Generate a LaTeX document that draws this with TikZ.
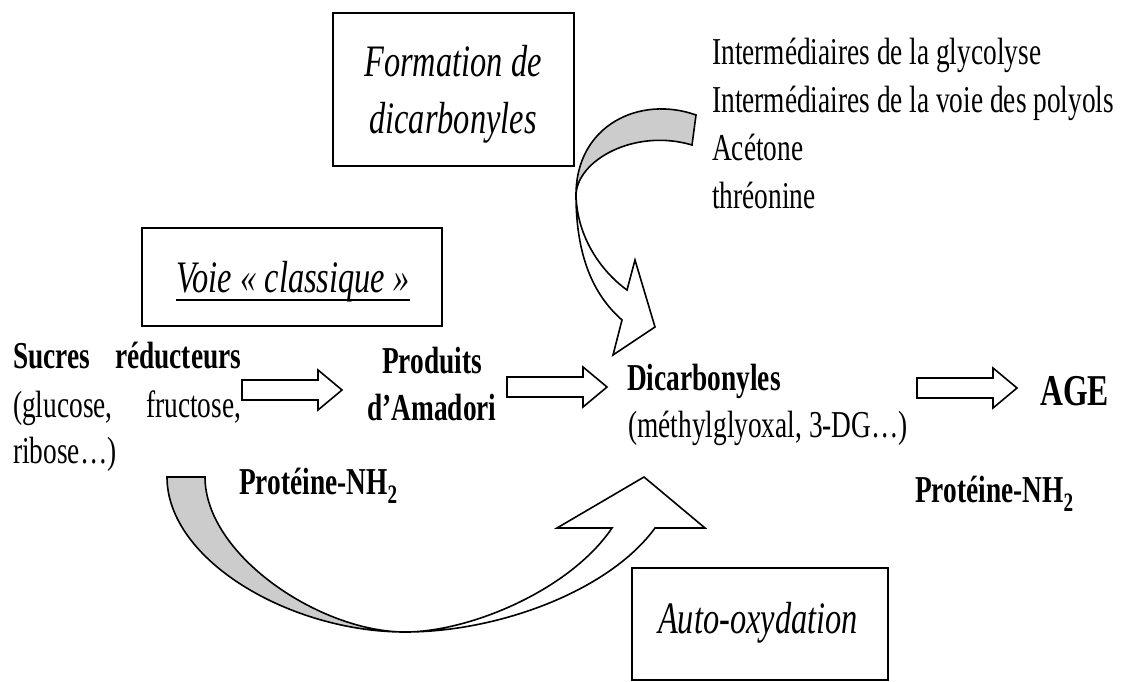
\documentclass[tikz,border=0pt]{standalone}
\usepackage{fontspec}
\setmainfont{Liberation Serif}[FakeStretch=0.72]
\begin{document}
\begin{tikzpicture}[x=1pt,y=-1pt,
  box/.style={draw, line width=1.8pt, inner sep=0pt},
  boxtitle/.style={font=\fontsize{45}{56}\selectfont\itshape, anchor=base, inner sep=0pt},
  bigbold/.style={font=\fontsize{38}{47}\selectfont\bfseries, inner sep=0pt},
  plain/.style={font=\fontsize{38}{47}\selectfont, inner sep=0pt},
  outline/.style={draw=black, line width=1.6pt, line join=miter},
  ribbonback/.style={outline, fill=gray!40},
  ribbonfront/.style={outline, fill=white},
  pics/fatarrow/.style={code={
    \draw[outline, fill=white] (0,-10) -- (76,-10) -- (76,-20) -- (100,0)
      -- (76,20) -- (76,10) -- (0,10) -- cycle;}}
]
\useasboundingbox (0,0) rectangle (1126,682);
\fill[white] (0,0) rectangle (1126,682);

% framed captions
\node[box, minimum width=241pt, minimum height=153pt] (formbox) at (453.5,89.5) {};
\node[boxtitle] (form1) at (453,77) {Formation de};
\node[boxtitle] (form2) at (453,133) {dicarbonyles};

\node[box, minimum width=300pt, minimum height=98pt] (voiebox) at (292,277) {};
\node[boxtitle] (voie) at (293,292) {Voie « classique »};
\draw[line width=1.6pt] ([yshift=-8pt]voie.base west) -- ([yshift=-8pt]voie.base east);

\node[box, minimum width=256pt, minimum height=112pt] (autobox) at (760,624) {};
\node[boxtitle] (auto) at (758,633) {Auto-oxydation};

% sources of dicarbonyls
\node[plain, anchor=base west] (src1) at (712,65) {Intermédiaires de la glycolyse};
\node[plain, anchor=base west] (src2) at (712,113) {Intermédiaires de la voie des polyols};
\node[plain, anchor=base west] (src3) at (712,160) {Acétone};
\node[plain, anchor=base west] (src4) at (712,208) {thréonine};

% main pathway
\node[bigbold, anchor=base west] (sucres) at (13,368) {\makebox[228pt][s]{Sucres réducteurs}};
\node[plain, anchor=base west] (gluc) at (13,417) {\makebox[228pt][s]{(glucose, fructose,}};
\node[plain, anchor=base west] (ribose) at (13,463) {ribose…)};

\node[bigbold, anchor=base] (prod) at (432,373) {Produits};
\node[bigbold, anchor=base] (amadori) at (432,420) {d’Amadori};

\node[bigbold, anchor=base west] (dicarb) at (627,390) {Dicarbonyles};
\node[plain, anchor=base west] (dicex) at (628,437) {(méthylglyoxal, 3-DG…)};

\node[font=\fontsize{44}{50}\selectfont\bfseries, anchor=base west, inner sep=0pt] (age) at (1040,405) {AGE};

\node[bigbold, anchor=base west] (protA) at (239,494) {Protéine-NH\textsubscript{2}};
\node[bigbold, anchor=base west] (protB) at (915,502) {Protéine-NH\textsubscript{2}};

% straight block arrows
\pic at (242,390) {fatarrow};
\pic at (507,387) {fatarrow};
\pic at (917,388) {fatarrow};

% curved arrow from the sources down to the dicarbonyls
\filldraw[ribbonback] (696,115) .. controls (640,95) and (576,125) .. (576,195)
  .. controls (577,160) and (635,128) .. (692,145) -- cycle;
\filldraw[ribbonfront] (576,195) .. controls (576,262) and (597,298) .. (622,320)
  -- (613,355) -- (655,327) -- (635,260) -- (627,290)
  .. controls (602,272) and (577,238) .. (576,195) -- cycle;

% curved arrow from the sugars up to the dicarbonyls (auto-oxidation)
\filldraw[ribbonback] (167,477) .. controls (167,560) and (290,632) .. (405,632)
  .. controls (320,632) and (205,555) .. (205,477) -- cycle;
\filldraw[ribbonfront] (405,632) .. controls (500,632) and (610,590) .. (655,528)
  -- (705,528) -- (644,477) -- (557,528) -- (612,528)
  .. controls (570,590) and (470,632) .. (405,632) -- cycle;
\end{tikzpicture}
\end{document}
